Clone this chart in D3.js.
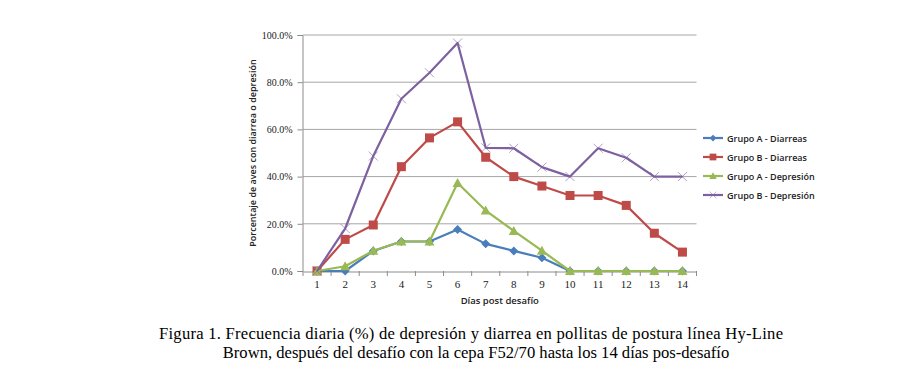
<!DOCTYPE html>
<html><head><meta charset="utf-8">
<script src="https://cdn.jsdelivr.net/npm/d3@7"></script>
<style>body{margin:0;background:#fff}svg{display:block}</style>
</head><body>
<svg id="c" width="898" height="381"></svg>
<script>
const days = ["1","2","3","4","5","6","7","8","9","10","11","12","13","14"];
const yTicks = [0,20,40,60,80,100];
const seriesNames = ["Grupo A - Diarreas","Grupo B - Diarreas","Grupo A - Depresión","Grupo B - Depresión"];
const grupoADiarreas = [0,0,8.5,12.5,12.5,17.6,11.5,8.5,5.6,0,0,0,0,0];
const grupoBDiarreas = [0,13.4,19.5,44.2,56.4,63.2,48.2,40,36,32,32,27.8,16,8];
const grupoADepresion = [0,2,8.6,12.5,12.5,37.3,25.6,17,8.6,0,0,0,0,0];
const grupoBDepresion = [0,18,48.7,73,84,96.6,52.2,52,44,40,52,48,40,40];
const colors = ["#4a7ebb","#be4b48","#98b954","#7d60a0"];
const markers = ["diamond","square","triangle","cross"];
const data = [grupoADiarreas,grupoBDiarreas,grupoADepresion,grupoBDepresion];

const svg = d3.select("#c");
const L=303, R=696.5, T=35, B=271;
const x = d3.scaleBand().domain(days).range([L,R]);
const y = d3.scaleLinear().domain([0,100]).range([B,T]);

svg.append("g").selectAll("line").data(yTicks.filter(d=>d>0)).join("line")
  .attr("x1",L).attr("x2",R).attr("y1",d=>y(d)).attr("y2",d=>y(d))
  .attr("stroke","#a6a6a6").attr("stroke-width",1);

const ya = svg.append("g").attr("transform",`translate(${L-0.5},0)`)
  .call(d3.axisLeft(y).tickValues(yTicks).tickSize(5).tickPadding(5).tickFormat(d=>d.toFixed(1)+"%"));
ya.select(".domain").attr("stroke","#8c8c8c");
ya.selectAll(".tick line").attr("stroke","#8c8c8c");
ya.selectAll("text").attr("font-family","Liberation Serif").attr("font-size","10px").attr("fill","#222");

const xa = svg.append("g").attr("transform",`translate(0,${B+0.5})`)
  .call(d3.axisBottom(x).tickSize(0).tickPadding(9));
xa.select(".domain").attr("stroke","#8c8c8c");
xa.selectAll("text").attr("font-family","Liberation Serif").attr("font-size","11px").attr("fill","#222");
svg.append("g").selectAll("line").data(d3.range(days.length+1)).join("line")
  .attr("x1",i=>L+i*x.step()).attr("x2",i=>L+i*x.step()).attr("y1",B).attr("y2",B+5)
  .attr("stroke","#8c8c8c");

const cx = d => x(d)+x.bandwidth()/2;

function drawMarker(g, type, color, px, py){
  if(type==="diamond"){
    g.append("path").attr("d",`M${px},${py-4.5}L${px+4.5},${py}L${px},${py+4.5}L${px-4.5},${py}Z`).attr("fill",color);
  } else if(type==="square"){
    g.append("rect").attr("x",px-4.5).attr("y",py-4.5).attr("width",9).attr("height",9).attr("fill",color);
  } else if(type==="triangle"){
    g.append("path").attr("d",`M${px},${py-5}L${px+5},${py+4}L${px-5},${py+4}Z`).attr("fill",color);
  } else {
    g.append("path").attr("d",`M${px-4.5},${py-4.5}L${px+4.5},${py+4.5}M${px-4.5},${py+4.5}L${px+4.5},${py-4.5}`)
      .attr("stroke",color).attr("stroke-width",1).attr("opacity",0.6).attr("fill","none");
  }
}

const line = d3.line().x((d,i)=>cx(days[i])).y(d=>y(d));
data.forEach((vals,s)=>{
  const g = svg.append("g");
  g.append("path").attr("d",line(vals)).attr("fill","none").attr("stroke",colors[s]).attr("stroke-width",2.2).attr("stroke-linejoin","round");
  vals.forEach((v,i)=>drawMarker(g,markers[s],colors[s],cx(days[i]),y(v)));
});

const lg = svg.append("g");
seriesNames.forEach((n,i)=>{
  const ly = 138 + i*19;
  lg.append("line").attr("x1",703).attr("x2",723).attr("y1",ly).attr("y2",ly).attr("stroke",colors[i]).attr("stroke-width",2.2);
  const mg = lg.append("g").attr("transform",`translate(${713},${ly}) scale(0.75) translate(${-713},${-ly})`);
  drawMarker(mg,markers[i],colors[i],713,ly);
  lg.append("text").attr("x",727).attr("y",ly+3.5).text(n)
    .attr("font-family","Open Sans").attr("font-size","9px").attr("font-weight","600").attr("fill","#222");
});

svg.append("text").attr("transform",`translate(256,${(T+B)/2}) rotate(-90)`).attr("text-anchor","middle")
  .text("Porcentaje de aves con diarrea o depresión")
  .attr("font-family","Open Sans").attr("font-size","9px").attr("font-weight","600").attr("fill","#222");
svg.append("text").attr("x",(L+R)/2).attr("y",304).attr("text-anchor","middle")
  .text("Días post desafío")
  .attr("font-family","Open Sans").attr("font-size","9.5px").attr("font-weight","600").attr("fill","#222");

const cap = ["Figura 1. Frecuencia diaria (%) de depresión y diarrea en pollitas de postura línea Hy-Line",
             "Brown, después del desafío con la cepa F52/70 hasta los 14 días pos-desafío"];
svg.append("text").attr("x",159).attr("y",338.5).text(cap[0])
  .attr("textLength",624).attr("lengthAdjust","spacing")
  .attr("font-family","Liberation Serif").attr("font-size","16.6px").attr("fill","#000");
svg.append("text").attr("x",476).attr("y",357.5).attr("text-anchor","middle").text(cap[1])
  .attr("font-family","Liberation Serif").attr("font-size","16.6px").attr("fill","#000");
</script>
</body></html>
